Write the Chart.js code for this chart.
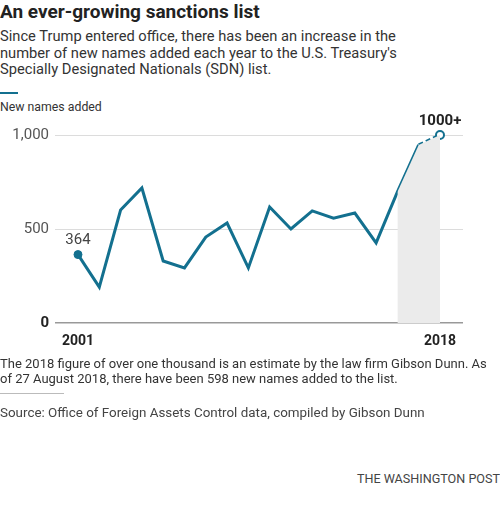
<!DOCTYPE html>
<html>
<head>
<meta charset="utf-8">
<script src="https://cdn.jsdelivr.net/npm/chart.js@4"></script>
<style>
  body { margin: 0; background: #fff; font-family: Roboto, "Noto Sans", sans-serif; }
  #wrap { position: relative; width: 500px; height: 506px; overflow: hidden; }
  .t { position: absolute; left: 0; white-space: nowrap; }
  #title { top: 0; font-size: 19px; font-weight: bold; color: #222; line-height: 24px; }
  #sub { top: 28px; font-size: 14.7px; color: #333; line-height: 16.5px; }
  #teal { position: absolute; left: 0; top: 92px; width: 18px; height: 2px; background: #13708f; }
  #ylab { top: 99px; font-size: 12.3px; color: #333; line-height: 16px; }
  #note { top: 356px; font-size: 13px; color: #333; line-height: 15px; }
  #rule { position: absolute; left: 0; top: 393px; width: 64px; height: 1px; background: #bbb; }
  #src { top: 405px; font-size: 13.4px; color: #444; line-height: 16px; }
  #wapo { top: 471px; right: 0; left: auto; font-size: 12.6px; color: #444; line-height: 16px; }
  #c { position: absolute; left: 0; top: 110px; }
</style>
</head>
<body>
<div id="wrap">
  <div class="t" id="title">An ever-growing sanctions list</div>
  <div class="t" id="sub">Since Trump entered office, there has been an increase in the<br>number of new names added each year to the U.S. Treasury's<br>Specially Designated Nationals (SDN) list.</div>
  <div id="teal"></div>
  <div class="t" id="ylab">New names added</div>
  <canvas id="c" width="500" height="250"></canvas>
  <div class="t" id="note">The 2018 figure of over one thousand is an estimate by the law firm Gibson Dunn. As<br>of 27 August 2018, there have been 598 new names added to the list.</div>
  <div id="rule"></div>
  <div class="t" id="src">Source: Office of Foreign Assets Control data, compiled by Gibson Dunn</div>
  <div class="t" id="wapo">THE WASHINGTON POST</div>
</div>
<script>
// data
const years = [2001, 2002, 2003, 2004, 2005, 2006, 2007, 2008, 2009,
               2010, 2011, 2012, 2013, 2014, 2015, 2016, 2017, 2018];
const values = [364, 191, 601, 718, 330, 293, 457, 532, 293,
                617, 500, 596, 558, 585, 426, 697, 947, 1000];
const shadeFrom = 2016;
const xTicks = [2001, 2018];
const yTicks = [0, 500, 1000];

const teal = '#13708f';
const last = values.length - 1;

const linePts = years.map((y, i) => ({ x: y, y: values[i] }));
const shadePts = years.map((y, i) => ({ x: y, y: y >= shadeFrom ? values[i] : null }));

// labels above the first and last points
const pointLabels = {
  id: 'pointLabels',
  afterDatasetsDraw(chart) {
    const meta = chart.getDatasetMeta(1);
    const ctx = chart.ctx;
    ctx.save();
    ctx.textAlign = 'center';
    ctx.textBaseline = 'middle';
    const p0 = meta.data[0];
    ctx.fillStyle = '#444';
    ctx.font = '15px Roboto';
    ctx.fillText(String(values[0]), p0.x, p0.y - 14);
    const p1 = meta.data[last];
    ctx.fillStyle = '#222';
    ctx.font = 'bold 15px Roboto';
    ctx.fillText('1000+', p1.x, p1.y - 14);
    ctx.restore();
  }
};

new Chart('c', {
  type: 'line',
  data: {
    datasets: [
      {
        data: shadePts,
        fill: 'origin',
        backgroundColor: '#ebebeb',
        borderWidth: 0,
        pointRadius: 0,
        spanGaps: false
      },
      {
        data: linePts,
        borderColor: teal,
        borderWidth: 3,
        tension: 0,
        fill: false,
        clip: false,
        pointRadius: values.map((v, i) => (i === 0 || i === last) ? 4 : 0),
        pointBackgroundColor: values.map((v, i) => i === last ? '#fff' : teal),
        pointBorderColor: teal,
        pointBorderWidth: values.map((v, i) => i === last ? 2 : 1),
        segment: {
          borderDash: ctx => ctx.p1DataIndex === last ? [5, 3] : undefined
        }
      }
    ]
  },
  options: {
    responsive: false,
    animation: false,
    layout: { padding: { top: 25, right: 37, left: 0, bottom: 0 } },
    plugins: { legend: { display: false }, tooltip: { enabled: false } },
    scales: {
      x: {
        type: 'linear',
        min: 1999.92,
        max: 2019.08,
        grid: { display: false, drawTicks: false },
        border: { display: false },
        afterBuildTicks: s => { s.ticks = xTicks.map(v => ({ value: v })); },
        afterFit: s => { s.height = 37; },
        ticks: {
          autoSkip: false,
          maxRotation: 0,
          padding: 10,
          color: '#222',
          font: { family: 'Roboto', size: 14, weight: 'bold' },
          callback: v => String(v)
        }
      },
      y: {
        min: 0,
        max: 1000,
        afterBuildTicks: s => { s.ticks = yTicks.map(v => ({ value: v })); },
        afterFit: s => { s.width = 55; },
        grid: {
          drawTicks: false,
          color: c => c.tick && c.tick.value === 0 ? '#999' : '#dcdcdc',
          lineWidth: c => c.tick && c.tick.value === 0 ? 1.5 : 1
        },
        border: { display: false },
        ticks: {
          padding: 6,
          color: c => c.tick && c.tick.value === 0 ? '#222' : '#555',
          font: c => ({ family: 'Roboto', size: 15, weight: c.tick && c.tick.value === 0 ? 'bold' : 'normal' }),
          callback: v => v.toLocaleString('en-US')
        }
      }
    }
  },
  plugins: [pointLabels]
});
</script>
</body>
</html>
